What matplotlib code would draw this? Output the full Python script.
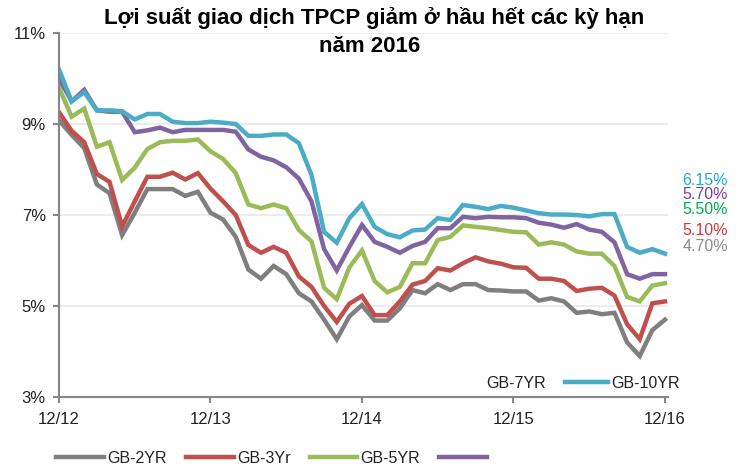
import matplotlib
matplotlib.use("Agg")
import matplotlib.pyplot as plt
from matplotlib.lines import Line2D

# Monthly yields, 12/2012 .. 12/2016 (49 points)
months = list(range(49))
tick_pos = [0, 12, 24, 36, 48]
tick_labels = ["12/12", "12/13", "12/14", "12/15", "12/16"]

gb2 = [9.08, 8.76, 8.47, 7.67, 7.48, 6.56, 7.05, 7.57, 7.57, 7.57, 7.42, 7.51,
       7.05, 6.90, 6.52, 5.80, 5.60, 5.88, 5.70, 5.28, 5.10, 4.70, 4.27, 4.77,
       5.02, 4.68, 4.68, 4.95, 5.35, 5.28, 5.48, 5.35, 5.48, 5.48, 5.35, 5.34,
       5.32, 5.32, 5.12, 5.17, 5.10, 4.85, 4.88, 4.82, 4.85, 4.20, 3.90, 4.47, 4.70]
gb3 = [9.26, 8.85, 8.60, 7.90, 7.73, 6.75, 7.30, 7.84, 7.84, 7.93, 7.78, 7.92,
       7.58, 7.30, 7.00, 6.34, 6.17, 6.30, 6.17, 5.65, 5.42, 5.00, 4.65, 5.05,
       5.22, 4.80, 4.80, 5.10, 5.47, 5.55, 5.83, 5.78, 5.94, 6.07, 5.98, 5.93,
       5.85, 5.84, 5.60, 5.60, 5.55, 5.33, 5.38, 5.40, 5.23, 4.60, 4.27, 5.06, 5.10]
gb5 = [9.80, 9.16, 9.34, 8.50, 8.60, 7.77, 8.04, 8.45, 8.60, 8.63, 8.63, 8.66,
       8.40, 8.23, 7.92, 7.23, 7.15, 7.23, 7.15, 6.67, 6.42, 5.40, 5.15, 5.85,
       6.22, 5.55, 5.30, 5.42, 5.94, 5.94, 6.45, 6.52, 6.77, 6.74, 6.71, 6.67,
       6.63, 6.62, 6.35, 6.40, 6.35, 6.20, 6.15, 6.15, 5.88, 5.20, 5.10, 5.45, 5.50]
gb7 = [10.00, 9.50, 9.75, 9.30, 9.27, 9.27, 8.82, 8.86, 8.92, 8.82, 8.87, 8.87,
       8.87, 8.87, 8.83, 8.44, 8.28, 8.20, 8.05, 7.80, 7.30, 6.25, 5.78, 6.30,
       6.78, 6.41, 6.30, 6.17, 6.32, 6.41, 6.71, 6.71, 6.96, 6.93, 6.96, 6.95,
       6.95, 6.93, 6.83, 6.79, 6.72, 6.80, 6.68, 6.63, 6.40, 5.70, 5.60, 5.70, 5.70]
gb10 = [10.20, 9.50, 9.70, 9.30, 9.30, 9.28, 9.10, 9.22, 9.22, 9.05, 9.02, 9.02,
        9.05, 9.03, 9.00, 8.74, 8.74, 8.77, 8.77, 8.58, 7.88, 6.63, 6.39, 6.93,
        7.24, 6.74, 6.58, 6.51, 6.66, 6.68, 6.93, 6.89, 7.22, 7.18, 7.13, 7.20,
        7.16, 7.10, 7.04, 7.01, 7.01, 7.00, 6.97, 7.02, 7.02, 6.30, 6.17, 6.25, 6.15]

end_labels = ["6.15%", "5.70%", "5.50%", "5.10%", "4.70%"]
end_label_y = [7.75, 7.44, 7.11, 6.67, 6.30]
end_label_colors = ["#2aa7d8", "#7a3fa0", "#00b050", "#d03a3a", "#8c8c8c"]

C2, C3, C5, C7, C10 = "#7f7f7f", "#c0504d", "#9bbb59", "#8064a2", "#4bacc6"

plt.rcParams["font.family"] = ["Liberation Sans", "DejaVu Sans"]

fig = plt.figure(figsize=(7.47, 4.69), dpi=100)
ax = fig.add_axes([59 / 747, 1 - 397 / 469, 609 / 747, 364 / 469])

lw = 3.2
h2, = ax.plot(months, gb2, color=C2, lw=lw, solid_joinstyle="miter")
h3, = ax.plot(months, gb3, color=C3, lw=lw, solid_joinstyle="miter")
h5, = ax.plot(months, gb5, color=C5, lw=lw, solid_joinstyle="miter")
h7, = ax.plot(months, gb7, color=C7, lw=lw, solid_joinstyle="miter")
h10, = ax.plot(months, gb10, color=C10, lw=lw, solid_joinstyle="miter")

ax.set_xlim(0, 48.24)
ax.set_ylim(3, 11)
ax.set_yticks([3, 5, 7, 9, 11])
ax.set_yticklabels(["3%", "5%", "7%", "9%", "11%"])
ax.set_xticks(tick_pos)
ax.set_xticklabels(tick_labels)
ax.tick_params(axis="both", direction="out", length=4.5, width=1.5,
               color="#868686", labelsize=12, labelcolor="#222222")
ax.tick_params(axis="x", pad=6)
ax.tick_params(axis="y", pad=5)

for v in [5, 7, 9, 11]:
    ax.axhline(v, color="#ececec", lw=1.5, zorder=0)

for s in ["top", "right"]:
    ax.spines[s].set_visible(False)
for s in ["left", "bottom"]:
    ax.spines[s].set_color("#868686")
    ax.spines[s].set_linewidth(1.5)

for txt, yv, c in zip(end_labels, end_label_y, end_label_colors):
    ax.text(49.4, yv, txt, color=c, fontsize=11.5, va="center", ha="left",
            clip_on=False)

fig.text(374 / 747, 1 - 18 / 469, "Lợi suất giao dịch TPCP giảm ở hầu hết các kỳ hạn",
         ha="center", va="center", fontsize=16, fontweight="bold")
fig.text(370 / 747, 1 - 47 / 469, "năm 2016", ha="center", va="center",
         fontsize=16, fontweight="bold")

# legend split in two rows like the original
leg1 = fig.legend([h2, h3, h5, h7], ["GB-2YR", "GB-3Yr", "GB-5YR", ""],
                  ncol=4, loc="center left", bbox_to_anchor=(48 / 747, 1 - 458 / 469),
                  frameon=False, fontsize=11.5, handlelength=3.0,
                  handletextpad=0.2, columnspacing=1.2, borderpad=0)
blank = Line2D([], [], color="none")
leg2 = fig.legend([blank, h10], ["GB-7YR", "GB-10YR"], ncol=2, loc="center right",
                  bbox_to_anchor=(688 / 747, 1 - 383 / 469), frameon=False,
                  fontsize=11.5, handlelength=2.7, handletextpad=0.2,
                  columnspacing=1.2, borderpad=0)
for t in leg1.get_texts() + leg2.get_texts():
    t.set_color("#222222")

fig.savefig("out.png", dpi=100)
